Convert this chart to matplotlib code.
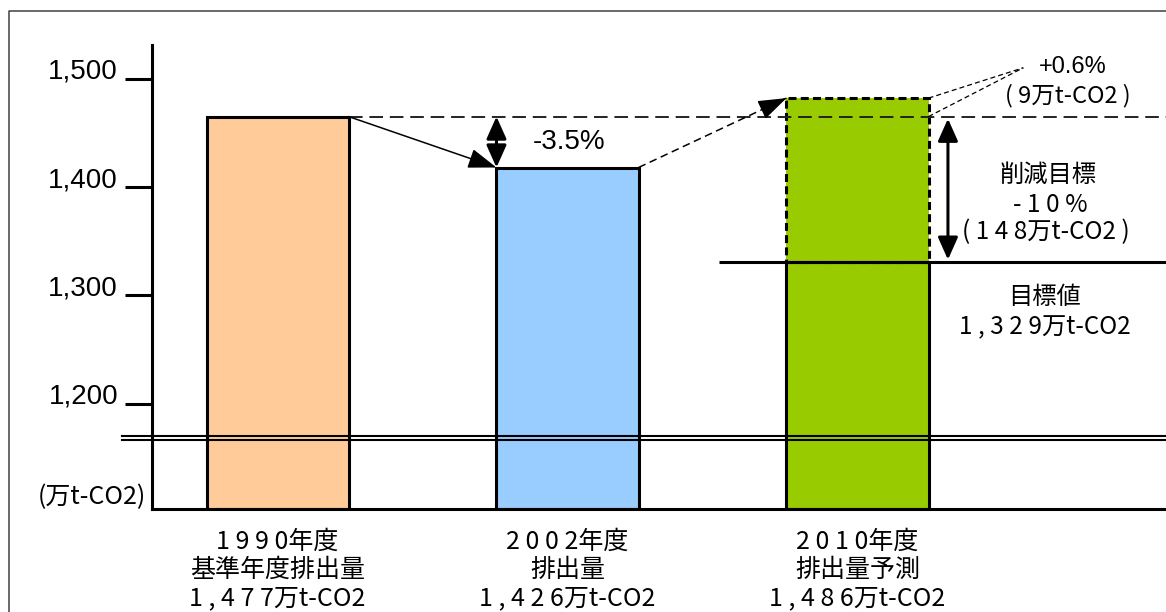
import matplotlib
matplotlib.use('Agg')
import matplotlib.pyplot as plt
from matplotlib.lines import Line2D

# ===== data =====
categories = ['1 9 9 0年度\n基準年度排出量\n1 , 4 7 7万t-CO2',
              '2 0 0 2年度\n排出量\n1 , 4 2 6万t-CO2',
              '2 0 1 0年度\n排出量予測\n1 , 4 8 6万t-CO2']
bar_values = [1465, 1418, 1482]          # heights as drawn
bar_colors = ['#FFCC99', '#99CCFF', '#99CC00']
target_value = 1331
yticks = [1200, 1300, 1400, 1500]
ytick_labels = ['1,200', '1,300', '1,400', '1,500']
y_min, y_max = 1103, 1531
break_levels = [1170.5, 1166.8]

JP = ['Noto Sans CJK JP', 'DejaVu Sans']
LAT = ['Liberation Sans', 'DejaVu Sans']

W, H = 1166, 612
fig = plt.figure(figsize=(W / 100, H / 100), dpi=100)
ax = fig.add_axes([152 / W, 103 / H, 1014 / W, 464 / H])

xs = list(range(len(categories)))
bw = 0.49
x_lo, x_hi = -0.433, 3.064
ax.set_xlim(x_lo, x_hi)
ax.set_ylim(y_min, y_max)

# bars 1 and 2
for i in range(2):
    ax.bar(xs[i], bar_values[i] - y_min, bottom=y_min, width=bw,
           color=bar_colors[i], edgecolor='black', linewidth=2.2, zorder=2)

# bar 3: fill, solid lower part, dashed upper part
ax.bar(xs[2], bar_values[2] - y_min, bottom=y_min, width=bw,
       color=bar_colors[2], linewidth=0, zorder=2)
ax.bar(xs[2], target_value - y_min, bottom=y_min, width=bw,
       fill=False, edgecolor='black', linewidth=2.2, zorder=3)
ax.bar(xs[2], bar_values[2] - target_value, bottom=target_value, width=bw,
       fill=False, edgecolor='black', linewidth=2.2,
       linestyle=(0, (2.6, 1.4)), zorder=3)

# base year dashed level
ax.plot([xs[0] + bw / 2, x_hi], [bar_values[0]] * 2, color='#222222',
        linewidth=1.4, dashes=(7, 3.5), zorder=4)

# target level
ax.plot([1.522, x_hi], [target_value] * 2, color='black', linewidth=2.2,
        solid_capstyle='butt', zorder=4)

# arrow 1990 -> 2002 (solid)
arrow_head = '-|>,head_length=0.8,head_width=0.28'
ax.annotate('', xy=(xs[1] - bw / 2, bar_values[1]), xytext=(xs[0] + bw / 2, bar_values[0]),
            arrowprops=dict(arrowstyle=arrow_head, mutation_scale=22, lw=1.1,
                            color='black', shrinkA=0, shrinkB=0), zorder=5)

# arrow 2002 -> 2010 (dashed shaft, solid head)
x0, y0 = xs[1] + bw / 2, bar_values[1]
x1, y1 = xs[2] - bw / 2, bar_values[2]
ax.plot([x0, x1], [y0, y1], color='black', linewidth=1.1, dashes=(5, 3), zorder=5)
ax.annotate('', xy=(x1, y1), xytext=(x0 + 0.86 * (x1 - x0), y0 + 0.86 * (y1 - y0)),
            arrowprops=dict(arrowstyle=arrow_head, mutation_scale=22, lw=1.1,
                            color='black', shrinkA=0, shrinkB=0), zorder=5)

# -3.5% double arrow
dbl_head = '<|-|>,head_length=0.85,head_width=0.38'
ax.annotate('', xy=(xs[1] - bw / 2, bar_values[1]), xytext=(xs[1] - bw / 2, bar_values[0]),
            arrowprops=dict(arrowstyle=dbl_head, mutation_scale=16, lw=2.2,
                            color='black', shrinkA=0, shrinkB=0), zorder=5)
ax.text(xs[1] + 0.006, (bar_values[0] + bar_values[1]) / 2, '-3.5%', family=LAT,
        fontsize=20, ha='center', va='center')

# reduction target double arrow
ax.annotate('', xy=(2.312, target_value + 2), xytext=(2.312, bar_values[0] - 2),
            arrowprops=dict(arrowstyle=dbl_head, mutation_scale=16, lw=2.2,
                            color='black', shrinkA=0, shrinkB=0), zorder=5)

# +0.6% leader lines
for yv in [bar_values[2], bar_values[0]]:
    ax.plot([xs[2] + bw / 2, 2.572], [yv, 1510], color='black', linewidth=0.9,
            dashes=(4, 2.5), clip_on=False, zorder=5)
ax.text(2.742, 1511, '+0.6%', family=LAT, fontsize=17, ha='center', va='center')
ax.text(2.726, 1484, '( 9万t-CO2 )', family=JP, fontsize=17, ha='center', va='center')

# right annotations
ax.text(2.657, 1411, '削減目標', family=JP, fontsize=17.5, ha='center', va='center')
ax.text(2.664, 1383, '- 1 0 %', family=JP, fontsize=17.5, ha='center', va='center')
ax.text(2.650, 1358, '( 1 4 8万t-CO2 )', family=JP, fontsize=17.5, ha='center', va='center')
ax.text(2.646, 1299, '目標値', family=JP, fontsize=17.5, ha='center', va='center')
ax.text(2.646, 1271, '1 , 3 2 9万t-CO2', family=JP, fontsize=17.5, ha='center', va='center')

# axis break lines
for yb in break_levels:
    ax.plot([-0.536, x_hi], [yb, yb], color='black', linewidth=1.5,
            clip_on=False, zorder=6)

# unit label
ax.text(-0.452, 1114, '(万t-CO2)', family=JP, fontsize=18, ha='right', va='center',
        clip_on=False)

# axes styling
for s in ['top', 'right']:
    ax.spines[s].set_visible(False)
for s in ['left', 'bottom']:
    ax.spines[s].set_linewidth(2.2)
    ax.spines[s].set_zorder(7)

ax.set_yticks(yticks)
ax.set_yticklabels(ytick_labels, family=LAT, fontsize=20, va='baseline')
ax.tick_params(axis='y', length=19.4, width=2.2, pad=5)

ax.set_xticks(xs)
ax.set_xticklabels(categories, family=JP, fontsize=18, linespacing=1.11)
ax.tick_params(axis='x', length=0, pad=14)

# outer frame
fig.add_artist(Line2D([9 / W, 9 / W, 1.01], [-0.01, 1 - 11 / H, 1 - 11 / H],
                      transform=fig.transFigure, color='#404040', linewidth=1.1))

fig.savefig('out.png', dpi=100)
